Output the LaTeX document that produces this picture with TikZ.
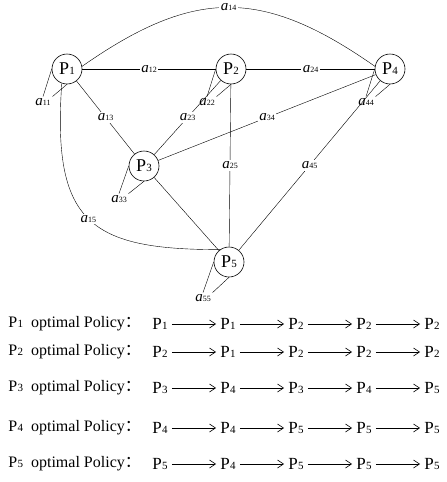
\documentclass[tikz,border=0pt]{standalone}
\usepackage{fontspec}
\setmainfont{Liberation Serif}
\newfontfamily\cjk{Noto Sans CJK SC}
\usetikzlibrary{positioning,arrows.meta,backgrounds}

% P with small index, a with small index
\newcommand{\pidx}[1]{P\kern0.4pt{\fontsize{11}{11}\selectfont #1}}
\newcommand{\aidx}[1]{\textit{a}{\fontsize{8}{8}\selectfont #1}}

\tikzset{
  state/.style={draw,circle,minimum size=30pt,inner sep=0pt,fill=white,font=\fontsize{18}{18}\selectfont},
  wt/.style={fill=white,inner sep=1.5pt,font=\fontsize{15}{15}\selectfont},
  selfwt/.style={inner sep=1.5pt,font=\fontsize{15}{15}\selectfont},
  pol/.style={inner sep=4pt,font=\fontsize{17}{17}\selectfont},
  polarrow/.style={-{Straight Barb[length=6pt,width=8pt]},line width=0.6pt}
}

\begin{document}
\begin{tikzpicture}[x=1pt,y=1pt,line width=0.6pt]
\useasboundingbox (0,0) rectangle (447,-482);

% states
\node[state] (P1) at (67,-69) {\pidx{1}};
\node[state] (P2) at (231,-69) {\pidx{2}};
\node[state] (P4) at (390,-69) {\pidx{4}};
\node[state] (P3) at (144,-166) {\pidx{3}};
\node[state] (P5) at (229,-262) {\pidx{5}};

% self weights
\node[selfwt] (a11) at (43,-102) {\aidx{11}};
\node[selfwt] (a22) at (207,-102) {\aidx{22}};
\node[selfwt] (a33) at (119,-199) {\aidx{33}};
\node[selfwt] (a44) at (366,-102) {\aidx{44}};
\node[selfwt] (a55) at (203,-298) {\aidx{55}};

\begin{scope}[on background layer]
\draw (P1) -- node[wt] (a12) {\aidx{12}} (P2);
\draw (P2) -- node[wt] (a24) {\aidx{24}} (P4);
\draw (P1) -- node[wt] (a13) {\aidx{13}} (P3);
\draw (P2) -- node[wt] (a23) {\aidx{23}} (P3);
\draw (P3) -- node[wt] (a34) {\aidx{34}} (P4);
\draw (P2) -- node[wt] (a25) {\aidx{25}} (P5);
\draw (P4) -- node[wt] (a45) {\aidx{45}} (P5);
\draw (P3) -- (P5);
\draw (P1.10) to[out=35,in=145,looseness=1.2] node[wt] (a14) {\aidx{14}} (P4.170);
\draw (P1.250) .. controls +(266:140) and +(180:130) .. node[wt] (a15) {\aidx{15}} (P5.126);
% loops
\foreach \s in {1,...,5} {
  \draw (P\s.west) -- (a\s\s.north);
  \draw (P\s.south) -- (a\s\s.north east);
}
\end{scope}

% optimal policies
\foreach \r/\y/\seq in {1/324/{1,1,2,2,2},2/352/{2,1,2,2,2},3/388/{3,4,3,4,5},4/428/{4,4,5,5,5},5/464/{5,4,5,5,5}} {
  \node[pol,anchor=west,inner sep=0pt,font=\fontsize{16}{16}\selectfont] (lab\r) at (8,-\y) {\pidx{\r}\hspace{8pt}optimal Policy\cjk{：}};
  \foreach \p [count=\c] in \seq {
    \node[pol] (s\r-\c) at ({160+68*(\c-1)},-\y) {\pidx{\p}};
  }
  \foreach \c in {1,...,4} {
    \pgfmathtruncatemacro\n{\c+1}
    \draw[polarrow] (s\r-\c) -- (s\r-\n);
  }
}
\end{tikzpicture}
\end{document}
